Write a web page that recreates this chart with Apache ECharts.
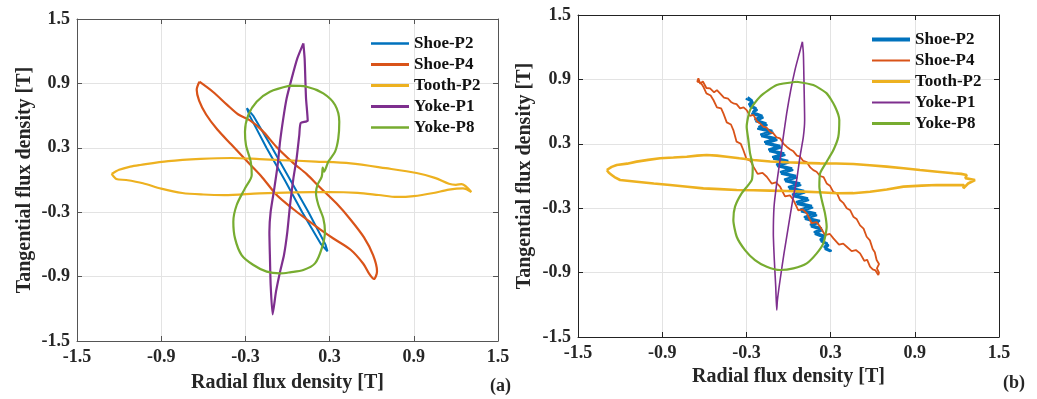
<!DOCTYPE html>
<html><head><meta charset="utf-8">
<script src="https://cdn.jsdelivr.net/npm/echarts@6/dist/echarts.min.js"></script>
<style>html,body{margin:0;padding:0;background:#fff}#c{width:1037px;height:399px}</style>
</head><body><div id="c"></div><script>
const seriesNames = ['Shoe-P2','Shoe-P4','Tooth-P2','Yoke-P1','Yoke-P8'];
const tickLabels = ['-1.5','-0.9','-0.3','0.3','0.9','1.5'];
const xTitle = 'Radial flux density [T]';
const yTitle = 'Tangential flux density [T]';
const panelLabels = ['(a)','(b)'];

// ---- panel (a) ----
const aShoeP2 = [[-0.29,0.67],[-0.245,0.60],[-0.11,0.30],[0.02,0.0],[0.15,-0.30],[0.27,-0.60],[0.285,-0.665],[0.24,-0.60],[0.105,-0.30],[-0.02,0.0],[-0.15,0.30],[-0.27,0.60],[-0.29,0.67]];
const aShoeP4 = [[-0.628,0.916],[-0.53,0.82],[-0.43,0.70],[-0.35,0.61],[-0.267,0.555],[-0.18,0.46],[-0.08,0.31],[0.04,0.16],[0.137,0.055],[0.232,-0.07],[0.35,-0.22],[0.45,-0.37],[0.545,-0.535],[0.61,-0.70],[0.638,-0.85],[0.616,-0.922],[0.585,-0.88],[0.54,-0.78],[0.45,-0.65],[0.327,-0.545],[0.232,-0.46],[0.13,-0.36],[0.04,-0.27],[-0.077,-0.14],[-0.19,0.04],[-0.30,0.19],[-0.40,0.33],[-0.50,0.47],[-0.58,0.61],[-0.63,0.74],[-0.647,0.84],[-0.628,0.916]];
const aToothP2 = [[-1.253,0.056],[-1.20,0.095],[-1.12,0.125],[-1.05,0.140],[-0.85,0.175],[-0.62,0.196],[-0.40,0.205],[-0.20,0.195],[-0.05,0.186],[0.20,0.172],[0.45,0.155],[0.70,0.110],[0.92,0.065],[1.05,0.02],[1.15,-0.035],[1.20,-0.045],[1.24,-0.038],[1.31,-0.112],[1.25,-0.078],[1.15,-0.09],[1.04,-0.121],[0.90,-0.150],[0.78,-0.158],[0.65,-0.140],[0.50,-0.120],[0.30,-0.112],[0.05,-0.115],[-0.20,-0.124],[-0.45,-0.140],[-0.60,-0.135],[-0.75,-0.121],[-0.90,-0.08],[-1.03,-0.030],[-1.15,0.00],[-1.22,0.01],[-1.253,0.056]];
const aYokeP1 = [[0.113,1.273],[0.122,1.133],[0.127,0.947],[0.132,0.761],[0.144,0.553],[0.094,0.531],[0.084,0.419],[0.065,0.202],[0.042,0.015],[0.018,-0.233],[-0.001,-0.481],[-0.025,-0.699],[-0.053,-0.854],[-0.082,-1.040],[-0.106,-1.252],[-0.120,-0.978],[-0.125,-0.730],[-0.129,-0.481],[-0.120,-0.295],[-0.094,-0.078],[-0.070,0.140],[-0.053,0.357],[-0.030,0.574],[-0.006,0.761],[0.030,0.947],[0.070,1.133],[0.113,1.273]];
const aYokeP8 = [[0.018,0.879],[0.137,0.869],[0.255,0.807],[0.339,0.699],[0.369,0.543],[0.362,0.388],[0.339,0.264],[0.291,0.171],[0.260,0.078],[0.251,0.115],[0.244,0.031],[0.213,-0.047],[0.203,-0.124],[0.220,-0.233],[0.255,-0.357],[0.267,-0.481],[0.244,-0.637],[0.196,-0.777],[0.113,-0.839],[0.018,-0.860],[-0.053,-0.870],[-0.148,-0.854],[-0.243,-0.792],[-0.327,-0.699],[-0.374,-0.544],[-0.386,-0.388],[-0.362,-0.233],[-0.303,-0.078],[-0.255,0.046],[-0.262,0.171],[-0.296,0.326],[-0.303,0.450],[-0.279,0.606],[-0.220,0.730],[-0.125,0.823],[0.018,0.879]];

// ---- panel (b) ----
const bShoeP2 = [[-0.305,0.720],[-0.251,0.685],[-0.277,0.650],[-0.222,0.615],[-0.263,0.580],[-0.179,0.545],[-0.235,0.510],[-0.151,0.475],[-0.222,0.440],[-0.108,0.405],[-0.194,0.370],[-0.080,0.335],[-0.165,0.300],[-0.051,0.265],[-0.137,0.230],[-0.023,0.195],[-0.109,0.160],[0.005,0.125],[-0.081,0.090],[0.033,0.055],[-0.053,0.020],[0.062,-0.015],[-0.024,-0.050],[0.090,-0.085],[0.004,-0.120],[0.118,-0.155],[0.032,-0.190],[0.146,-0.225],[0.060,-0.260],[0.175,-0.295],[0.089,-0.330],[0.203,-0.365],[0.117,-0.400],[0.216,-0.435],[0.160,-0.470],[0.244,-0.505],[0.188,-0.540],[0.257,-0.575],[0.231,-0.610],[0.286,-0.645],[0.260,-0.680],[0.292,-0.700],
  [0.307,-0.6975],[0.253,-0.6625],[0.278,-0.6275],[0.224,-0.5925],[0.265,-0.5575],[0.181,-0.5225],[0.237,-0.4875],[0.153,-0.4525],[0.224,-0.4175],[0.110,-0.3825],[0.196,-0.3475],[0.082,-0.3125],[0.167,-0.2775],[0.053,-0.2425],[0.139,-0.2075],[0.025,-0.1725],[0.111,-0.1375],[-0.003,-0.1025],[0.083,-0.0675],[-0.031,-0.0325],[0.054,0.0025],[-0.060,0.0375],[0.026,0.0725],[-0.088,0.1075],[-0.002,0.1425],[-0.116,0.1775],[-0.030,0.2125],[-0.144,0.2475],[-0.058,0.2825],[-0.173,0.3175],[-0.087,0.3525],[-0.201,0.3875],[-0.115,0.4225],[-0.214,0.4575],[-0.158,0.4925],[-0.242,0.5275],[-0.186,0.5625],[-0.255,0.5975],[-0.230,0.6325],[-0.284,0.6675],[-0.258,0.7025],[-0.290,0.735]];
const bShoeP4 = [[-0.642,0.910],[-0.63,0.86],[-0.61,0.88],[-0.585,0.82],[-0.559,0.816],[-0.53,0.78],[-0.51,0.80],[-0.488,0.770],[-0.46,0.73],[-0.43,0.72],[-0.41,0.69],[-0.393,0.677],[-0.37,0.67],[-0.345,0.63],[-0.32,0.64],[-0.298,0.614],[-0.275,0.56],[-0.25,0.57],[-0.225,0.51],[-0.203,0.490],[-0.18,0.46],[-0.155,0.45],[-0.13,0.41],[-0.108,0.397],[-0.085,0.36],[-0.06,0.35],[-0.035,0.30],[-0.013,0.273],[0.01,0.25],[0.035,0.23],[0.06,0.19],[0.082,0.180],[0.105,0.14],[0.13,0.13],[0.155,0.08],[0.177,0.055],[0.20,0.04],[0.225,0.00],[0.25,-0.01],[0.272,-0.069],[0.295,-0.09],[0.32,-0.15],[0.345,-0.16],[0.367,-0.224],[0.39,-0.25],[0.415,-0.30],[0.44,-0.32],[0.462,-0.379],[0.485,-0.40],[0.51,-0.46],[0.535,-0.49],[0.557,-0.566],[0.58,-0.60],[0.60,-0.68],[0.615,-0.71],[0.628,-0.783],[0.645,-0.82],[0.63,-0.86],[0.645,-0.90],[0.640,-0.923],[0.62,-0.88],[0.60,-0.87],[0.581,-0.845],[0.56,-0.78],[0.54,-0.79],[0.510,-0.721],[0.48,-0.69],[0.45,-0.70],[0.415,-0.659],[0.39,-0.63],[0.36,-0.64],[0.320,-0.581],[0.295,-0.54],[0.26,-0.55],[0.225,-0.472],[0.20,-0.43],[0.165,-0.44],[0.130,-0.348],[0.10,-0.31],[0.07,-0.32],[0.035,-0.224],[0.01,-0.18],[-0.025,-0.19],[-0.060,-0.100],[-0.09,-0.06],[-0.12,-0.07],[-0.155,-0.007],[-0.185,0.03],[-0.22,0.02],[-0.250,0.087],[-0.27,0.14],[-0.30,0.16],[-0.322,0.242],[-0.34,0.30],[-0.37,0.32],[-0.393,0.428],[-0.41,0.48],[-0.44,0.50],[-0.464,0.583],[-0.48,0.63],[-0.51,0.64],[-0.535,0.708],[-0.555,0.75],[-0.585,0.77],[-0.607,0.832],[-0.625,0.87],[-0.65,0.88],[-0.642,0.910]];
const bToothP2 = [[-1.295,0.056],[-1.26,0.085],[-1.224,0.103],[-1.15,0.115],[-1.082,0.134],[-1.0,0.15],[-0.915,0.165],[-0.82,0.172],[-0.725,0.180],[-0.65,0.19],[-0.583,0.196],[-0.51,0.19],[-0.440,0.180],[-0.35,0.165],[-0.250,0.149],[-0.13,0.135],[-0.013,0.128],[0.10,0.122],[0.225,0.118],[0.34,0.116],[0.462,0.112],[0.58,0.10],[0.700,0.087],[0.82,0.072],[0.937,0.056],[1.06,0.04],[1.175,0.025],[1.23,0.02],[1.27,0.010],[1.26,-0.02],[1.329,-0.037],[1.28,-0.07],[1.246,-0.115],[1.25,-0.085],[1.15,-0.085],[1.056,-0.084],[0.95,-0.09],[0.819,-0.099],[0.70,-0.125],[0.581,-0.146],[0.46,-0.16],[0.344,-0.161],[0.22,-0.152],[0.106,-0.146],[-0.01,-0.14],[-0.132,-0.136],[-0.25,-0.133],[-0.369,-0.130],[-0.49,-0.122],[-0.607,-0.115],[-0.72,-0.10],[-0.844,-0.084],[-0.96,-0.07],[-1.082,-0.053],[-1.200,-0.037],[-1.24,-0.01],[-1.260,0.010],[-1.28,0.03],[-1.295,0.056]];
const bYokeP1 = [[0.099,1.251],[0.106,1.142],[0.111,0.832],[0.115,0.521],[0.106,0.366],[0.082,0.180],[0.058,-0.038],[0.030,-0.224],[-0.001,-0.472],[-0.032,-0.721],[-0.060,-0.969],[-0.079,-1.156],[-0.084,-1.249],[-0.091,-1.031],[-0.101,-0.783],[-0.108,-0.535],[-0.103,-0.286],[-0.084,-0.069],[-0.060,0.149],[-0.037,0.366],[-0.013,0.583],[0.016,0.801],[0.046,0.987],[0.077,1.142],[0.099,1.251]];
const bYokeP8 = [[0.058,0.878],[0.177,0.847],[0.272,0.770],[0.332,0.646],[0.362,0.521],[0.355,0.366],[0.320,0.242],[0.272,0.133],[0.225,0.024],[0.220,-0.100],[0.237,-0.224],[0.260,-0.348],[0.272,-0.473],[0.248,-0.628],[0.201,-0.721],[0.130,-0.814],[0.035,-0.861],[-0.060,-0.876],[-0.155,-0.845],[-0.239,-0.783],[-0.310,-0.690],[-0.369,-0.566],[-0.393,-0.410],[-0.381,-0.286],[-0.334,-0.162],[-0.262,-0.038],[-0.255,0.087],[-0.274,0.211],[-0.286,0.335],[-0.298,0.459],[-0.274,0.614],[-0.203,0.739],[-0.084,0.847],[0.058,0.878]];

const colors = ['#0072BD','#D95319','#EDB120','#7E2F8E','#77AC30'];
const font = "'Liberation Serif','Times New Roman',serif";
const textCol = '#262626';

const fmt = v => { let best=''; tickLabels.forEach(t=>{ if (Math.abs(parseFloat(t)-v)<1e-6) best=t; }); return best; };

function xAxes(g, lineCol, nameGap) {
  return [{
    type:'value', gridIndex:g, min:-1.5, max:1.5, interval:0.6, position:'bottom',
    name:xTitle, nameLocation:'middle', nameGap:nameGap,
    nameTextStyle:{fontFamily:font,fontWeight:'bold',fontSize:20,color:textCol},
    axisLine:{show:true,onZero:false,lineStyle:{color:lineCol,width:1}},
    axisTick:{show:true,inside:true,length:5,lineStyle:{color:lineCol}},
    axisLabel:{formatter:fmt,margin:7,fontFamily:font,fontWeight:'bold',fontSize:18,color:textCol},
    splitLine:{show:true,lineStyle:{color:'#e3e3e3',width:1}}
  },{
    type:'value', gridIndex:g, min:-1.5, max:1.5, interval:0.6, position:'top',
    axisLine:{show:true,onZero:false,lineStyle:{color:lineCol,width:1}},
    axisTick:{show:true,inside:true,length:5,lineStyle:{color:lineCol}},
    axisLabel:{show:false}, splitLine:{show:false}
  }];
}
function yAxes(g, lineCol, nameGap) {
  return [{
    type:'value', gridIndex:g, min:-1.5, max:1.5, interval:0.6, position:'left',
    name:yTitle, nameLocation:'middle', nameGap:nameGap, nameRotate:90,
    nameTextStyle:{fontFamily:font,fontWeight:'bold',fontSize:20,color:textCol},
    axisLine:{show:true,onZero:false,lineStyle:{color:lineCol,width:1}},
    axisTick:{show:true,inside:true,length:5,lineStyle:{color:lineCol}},
    axisLabel:{formatter:fmt,margin:7,fontFamily:font,fontWeight:'bold',fontSize:18,color:textCol},
    splitLine:{show:true,lineStyle:{color:'#e3e3e3',width:1}}
  },{
    type:'value', gridIndex:g, min:-1.5, max:1.5, interval:0.6, position:'right',
    axisLine:{show:true,onZero:false,lineStyle:{color:lineCol,width:1}},
    axisTick:{show:true,inside:true,length:5,lineStyle:{color:lineCol}},
    axisLabel:{show:false}, splitLine:{show:false}
  }];
}

const aData = [aShoeP2,aShoeP4,aToothP2,aYokeP1,aYokeP8];
const bData = [bShoeP2,bShoeP4,bToothP2,bYokeP1,bYokeP8];
const aWidths = [2,2.2,2.2,2.2,2.2];
const bWidths = [2.0,1.8,2.6,1.6,2.2];
const aLegendW = [2.5,3,2.8,2.8,2.6];
const bLegendW = [4,2.2,3.2,2,3];
const aSmooth = [false,0.3,0.3,0.2,0.3];
const bSmooth = [false,false,false,0.2,0.2];

const series = [];
seriesNames.forEach((n,i)=>{
  series.push({type:'line',name:n,xAxisIndex:0,yAxisIndex:0,data:aData[i],symbol:'none',symbolSize:0,showSymbol:false,
    smooth:aSmooth[i],lineStyle:{color:colors[i],width:aWidths[i]},itemStyle:{color:colors[i]},animation:false,silent:true});
});
seriesNames.forEach((n,i)=>{
  series.push({type:'line',name:n,xAxisIndex:2,yAxisIndex:2,data:bData[i],symbol:'none',symbolSize:0,showSymbol:false,
    smooth:bSmooth[i],lineStyle:{color:colors[i],width:bWidths[i]},itemStyle:{color:colors[i]},animation:false,silent:true});
});

function iconPath(t) {
  const a = 7 - t/2, b = 7 + t/2;
  return 'path://M0,0 L0.01,0 M0,14 L0.01,14 M0,' + a + ' L38,' + a + ' L38,' + b + ' L0,' + b + ' Z';
}
function legend(left, top, widths) {
  return {
    left:left, top:top, orient:'vertical', padding:0, itemWidth:38, itemHeight:14, itemGap:4, selectedMode:false,
    symbolKeepAspect:false,
    textStyle:{fontFamily:font,fontWeight:'bold',fontSize:17,color:'#111',lineHeight:17},
    data: seriesNames.map((n,i)=>({name:n,icon:iconPath(widths[i]),itemStyle:{color:colors[i],borderWidth:0}}))
  };
}

const chart = echarts.init(document.getElementById('c'), null, {renderer:'canvas'});
chart.setOption({
  backgroundColor:'#fff',
  animation:false,
  grid:[
    {left:77, top:19, width:421, height:322, outerBoundsMode:'none', containLabel:false},
    {left:578, top:15, width:421, height:322, outerBoundsMode:'none', containLabel:false}
  ],
  xAxis:[...xAxes(0,'#555',32), ...xAxes(1,'#222',30)],
  yAxis:[...yAxes(0,'#555',42), ...yAxes(1,'#222',43)],
  legend:[legend(371,35,aLegendW), legend(872,31,bLegendW)],
  graphic:[
    {type:'text',left:490,top:377,style:{text:panelLabels[0],font:"bold 18px 'Liberation Serif', serif",fill:textCol}},
    {type:'text',left:1003,top:374,style:{text:panelLabels[1],font:"bold 18px 'Liberation Serif', serif",fill:textCol}}
  ],
  series:series
});
</script></body></html>
